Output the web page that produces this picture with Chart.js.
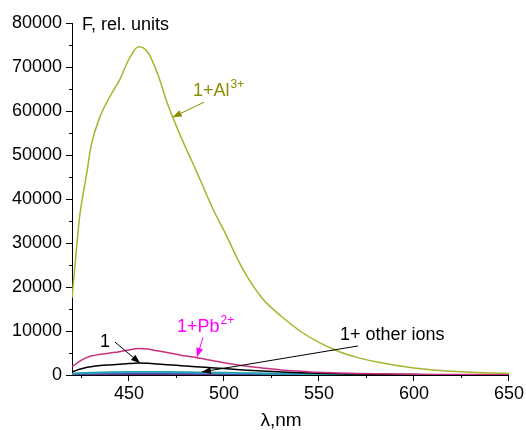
<!DOCTYPE html>
<html>
<head>
<meta charset="utf-8">
<script src="https://cdn.jsdelivr.net/npm/chart.js@4"></script>
<style>
  body { margin: 0; background: #fff; }
  canvas { display: block; }
</style>
</head>
<body>
<canvas id="chart" width="526" height="430"></canvas>
<script>
// wavelength, nm
const wavelengths = [420, 422, 424, 426, 428, 430, 435, 440, 445, 450, 455, 460, 465, 470, 475, 480, 485, 490, 495, 500,
    510, 520, 530, 540, 550, 560, 570, 580, 590, 600, 610, 620, 630, 640, 650];

// fluorescence intensity, rel. units
const alValues = [17500, 27000, 36000, 41500, 46500, 52000, 59000, 63300, 67000, 71800, 74600, 73300, 68500, 62000, 56500, 51500, 46800, 41800, 37000, 32800,
    24000, 17500, 13400, 10000, 7400, 5400, 4000, 3000, 2200, 1600, 1150, 850, 620, 450, 350];
const pbValues = [1900, 2500, 3100, 3600, 4000, 4300, 4700, 5000, 5300, 5700, 6000, 5900, 5500, 5100, 4700, 4300, 4000, 3600, 3200, 2800,
    2100, 1600, 1150, 850, 600, 450, 350, 260, 200, 160, 130, 110, 100, 90, 80];
const ligandValues = [700, 1000, 1300, 1550, 1750, 1900, 2150, 2300, 2450, 2600, 2700, 2650, 2500, 2350, 2200, 2050, 1900, 1750, 1600, 1450,
    1150, 900, 700, 520, 380, 280, 200, 150, 110, 90, 70, 60, 50, 45, 40];
const tealValues = [300, 380, 440, 490, 530, 560, 620, 660, 700, 730, 750, 750, 740, 720, 700, 670, 640, 610, 580, 550,
    480, 410, 350, 290, 240, 200, 160, 130, 110, 90, 75, 65, 55, 50, 45];
const cyanValues = [250, 320, 370, 410, 440, 470, 520, 560, 590, 610, 630, 630, 620, 600, 580, 560, 530, 500, 470, 450,
    390, 330, 280, 230, 190, 160, 130, 100, 85, 70, 60, 50, 45, 40, 35];
const blueValues = [150, 190, 220, 250, 270, 290, 320, 340, 360, 370, 380, 380, 375, 365, 350, 335, 320, 300, 285, 270,
    230, 195, 165, 140, 120, 100, 85, 70, 60, 50, 45, 40, 35, 30, 30];
const purpleValues = [80, 100, 110, 120, 130, 140, 150, 160, 170, 175, 180, 180, 175, 170, 165, 160, 150, 140, 135, 130,
    115, 100, 90, 80, 70, 60, 55, 50, 45, 40, 35, 30, 30, 25, 25];
const redValues = [30, 30, 30, 30, 30, 30, 30, 30, 30, 30, 30, 30, 30, 30, 30, 30, 30, 30, 30, 30,
    30, 30, 30, 30, 30, 30, 30, 30, 30, 30, 30, 30, 30, 30, 30];

const xMajorTicks = [450, 500, 550, 600, 650];
const xMinorTicks = [425, 475, 525, 575, 625];
const yMajorTicks = [0, 10000, 20000, 30000, 40000, 50000, 60000, 70000, 80000];
const yMinorTicks = [5000, 15000, 25000, 35000, 45000, 55000, 65000, 75000];

const FONT = "Arial, 'Liberation Sans', sans-serif";

function points(values) {
    return wavelengths.map(function(w, i) { return { x: w, y: values[i] }; });
}

function line(values, color, order) {
    return {
        data: points(values),
        borderColor: color,
        borderWidth: 1.5,
        pointRadius: 0,
        fill: false,
        cubicInterpolationMode: "monotone",
        order: order
    };
}

function arrow(ctx, x1, y1, x2, y2, color) {
    ctx.strokeStyle = color;
    ctx.fillStyle = color;
    ctx.lineWidth = 1;
    ctx.beginPath();
    ctx.moveTo(x1, y1);
    ctx.lineTo(x2, y2);
    ctx.stroke();
    let a = Math.atan2(y2 - y1, x2 - x1);
    let len = 9, half = 3.5;
    ctx.beginPath();
    ctx.moveTo(x2, y2);
    ctx.lineTo(x2 - len * Math.cos(a) + half * Math.sin(a), y2 - len * Math.sin(a) - half * Math.cos(a));
    ctx.lineTo(x2 - len * Math.cos(a) - half * Math.sin(a), y2 - len * Math.sin(a) + half * Math.cos(a));
    ctx.closePath();
    ctx.fill();
}

function supText(ctx, x, y, base, sup, color) {
    ctx.fillStyle = color;
    ctx.textAlign = "left";
    ctx.textBaseline = "alphabetic";
    ctx.font = "18px " + FONT;
    ctx.fillText(base, x, y);
    let w = ctx.measureText(base).width;
    if (sup) {
        ctx.font = "12px " + FONT;
        ctx.fillText(sup, x + w + 1, y - 8);
    }
}

// minor ticks, labels and arrows (placed in data units)
const annotations = {
    id: "annotations",
    afterDatasetsDraw(chart) {
        const ctx = chart.ctx;
        const xs = chart.scales.x, ys = chart.scales.y;
        const px = function(v) { return xs.getPixelForValue(v); };
        const py = function(v) { return ys.getPixelForValue(v); };
        const area = chart.chartArea;
        ctx.save();

        ctx.strokeStyle = "#000";
        ctx.lineWidth = 1;
        ctx.beginPath();
        xMinorTicks.forEach(function(v) {
            let x = Math.round(px(v)) + 0.5;
            ctx.moveTo(x, area.bottom);
            ctx.lineTo(x, area.bottom + 3);
        });
        yMinorTicks.forEach(function(v) {
            let y = Math.round(py(v)) + 0.5;
            ctx.moveTo(area.left, y);
            ctx.lineTo(area.left - 3, y);
        });
        ctx.stroke();

        supText(ctx, px(483.7), py(63500), "1+Al", "3+", "#8c8c00");
        arrow(ctx, px(489.5), py(62000), px(473), py(58600), "#8c8c00");

        supText(ctx, px(475.3), py(9800), "1+Pb", "2+", "#ff00ff");
        arrow(ctx, px(489), py(8600), px(485.8), py(4100), "#ff00ff");

        supText(ctx, px(434.7), py(6400), "1", "", "#000");
        arrow(ctx, px(442.6), py(7500), px(455.8), py(2700), "#000");

        supText(ctx, px(561), py(8000), "1+ other ions", "", "#000");
        arrow(ctx, px(570.5), py(6600), px(488.4), py(700), "#000");

        // axis captions
        ctx.fillStyle = "#000";
        ctx.font = "18px " + FONT;
        ctx.textAlign = "left";
        ctx.textBaseline = "alphabetic";
        ctx.fillText("F, rel. units", area.left + 10, area.top + 7);

        ctx.font = "19px " + FONT;
        ctx.textAlign = "center";
        ctx.fillText("\u03bb,nm", px(530), 426);
        ctx.restore();
    }
};

let ctx = document.getElementById("chart").getContext("2d");
let myChart = new Chart(ctx, {
    type: "line",
    data: {
        datasets: [
            line(alValues, "#a6b52c", 0),
            line(pbValues, "#c8307e", 1),
            line(ligandValues, "#000000", 2),
            line(tealValues, "#1fa0a8", 3),
            line(cyanValues, "#4ab6d6", 4),
            line(blueValues, "#3a55b0", 5),
            line(purpleValues, "#7a2a8a", 6),
            line(redValues, "#c00000", 7)
        ]
    },
    options: {
        responsive: false,
        animation: false,
        layout: { padding: { top: 23, right: 17, left: 0, bottom: 0 } },
        plugins: {
            legend: { display: false },
            tooltip: { enabled: false }
        },
        scales: {
            x: {
                type: "linear",
                min: 420,
                max: 650,
                afterBuildTicks: function(scale) {
                    scale.ticks = xMajorTicks.map(function(v) { return { value: v }; });
                },
                afterFit: function(scale) { scale.height = 55; },
                grid: { drawOnChartArea: false, drawTicks: true, tickLength: 6, color: "#000" },
                border: { display: true, color: "#000", width: 1 },
                ticks: {
                    autoSkip: false,
                    maxRotation: 0,
                    color: "#000",
                    padding: 2,
                    font: { size: 18, family: FONT },
                    callback: function(v) { return String(v); }
                }
            },
            y: {
                min: 0,
                max: 80000,
                afterBuildTicks: function(scale) {
                    scale.ticks = yMajorTicks.map(function(v) { return { value: v }; });
                },
                afterFit: function(scale) { scale.width = 72; },
                grid: { drawOnChartArea: false, drawTicks: true, tickLength: 6, color: "#000" },
                border: { display: true, color: "#000", width: 1 },
                ticks: {
                    autoSkip: false,
                    color: "#000",
                    padding: 4,
                    font: { size: 18, family: FONT },
                    callback: function(v) { return String(v); }
                }
            }
        }
    },
    plugins: [annotations]
});
</script>
</body>
</html>
